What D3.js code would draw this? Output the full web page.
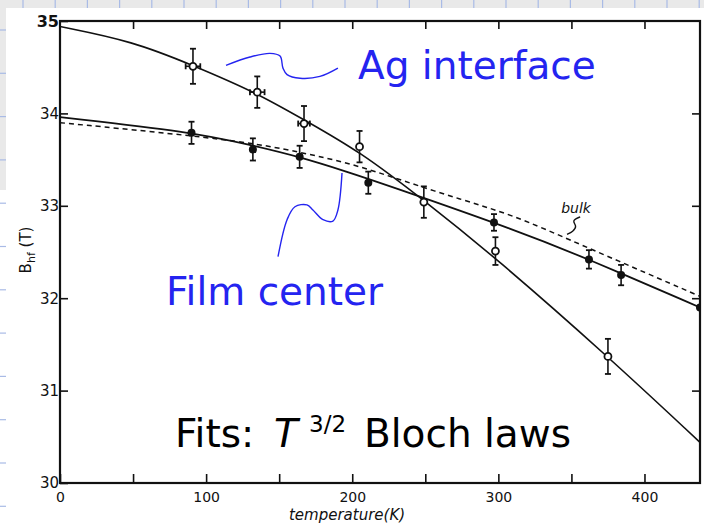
<!DOCTYPE html>
<html>
<head>
<meta charset="utf-8">
<script src="https://cdn.jsdelivr.net/npm/d3@7"></script>
<style>
  body { margin: 0; background: #fff; }
  svg { display: block; }
</style>
</head>
<body>
<svg id="chart" width="704" height="526"></svg>
<script>
// measured points, temperature in K, hyperfine field in T
const agT = [91, 135, 167, 205, 249, 298, 375]
const agB = [34.51, 34.23, 33.89, 33.64, 33.04, 32.51, 31.37]
const agErr = [0.19, 0.17, 0.19, 0.17, 0.17, 0.15, 0.19]
const agTErr = [5, 5, 4, 0, 0, 0, 0]

const filmT = [90, 132, 164, 211, 297, 362, 384, 438]
const filmB = [33.79, 33.61, 33.53, 33.25, 32.82, 32.42, 32.25, 31.9]
const filmErr = [0.12, 0.12, 0.12, 0.12, 0.09, 0.1, 0.11, 0]

// fit curves
const agFitT = [0, 50, 91, 135, 167, 205, 249, 298, 375, 438]
const agFitB = [34.94, 34.78, 34.52, 34.22, 33.93, 33.59, 33.06, 32.44, 31.37, 30.44]
const filmFitT = [0, 90, 130, 164, 198, 219, 315, 362, 438]
const filmFitB = [33.96, 33.8, 33.66, 33.53, 33.36, 33.25, 32.72, 32.42, 31.9]
const bulkT = [0, 123, 164, 199, 233, 274, 310, 349, 438]
const bulkB = [33.9, 33.71, 33.58, 33.46, 33.28, 33.07, 32.9, 32.63, 32.02]

// hand drawn pointers, in data units
const agArrowT = [113.6, 130, 143.7, 150.6, 152.6, 155.4, 164.3, 177.9, 190.2]
const agArrowB = [34.52, 34.61, 34.65, 34.62, 34.49, 34.42, 34.38, 34.4, 34.49]
const filmArrowT = [149.2, 155.4, 160.8, 169, 173.1, 180, 186.8, 190.2, 193]
const filmArrowB = [32.45, 32.85, 32.99, 33.01, 32.955, 32.85, 32.835, 32.955, 33.355]

const xTicks = [0, 50, 100, 150, 200, 250, 300, 350, 400]
const yTicks = [30, 31, 32, 33, 34, 35]

const svg = d3.select('#chart')
const blue = '#2424f0'

const plotLeft = 60
const plotRight = 700
const plotTop = 21
const plotBottom = 483

// scanned page backdrop
svg.append('rect').attr('width', 704).attr('height', 526).attr('fill', '#e9e9e9')
svg.append('rect').attr('x', 6).attr('y', 8).attr('width', 698).attr('height', 518).attr('fill', '#fff')
svg.append('rect').attr('x', 0).attr('y', 190).attr('width', 6).attr('height', 336).attr('fill', '#fff')
for (let gx = 23; gx < 704; gx += 32.2) {
  svg.append('line').attr('x1', gx).attr('x2', gx).attr('y1', 0).attr('y2', 8)
    .attr('stroke', '#a9bbe6').attr('stroke-width', 1.2)
}
for (let gy = 30; gy < 526; gy += 43.3) {
  svg.append('line').attr('x1', 0).attr('x2', 6).attr('y1', gy).attr('y2', gy)
    .attr('stroke', '#a9bbe6').attr('stroke-width', 1.2)
}

const x = d3.scaleLinear().domain([0, 438]).range([plotLeft, plotRight])
const y = d3.scaleLinear().domain([30, 35]).range([plotBottom, plotTop])

const ink = '#111'
const font = 'DejaVu Sans, Verdana, sans-serif'

svg.append('defs').append('clipPath').attr('id', 'clip')
  .append('rect').attr('x', plotLeft).attr('y', plotTop)
  .attr('width', plotRight - plotLeft).attr('height', plotBottom - plotTop)

// axes
const styleAxis = (g) => {
  g.select('.domain').remove()
  g.selectAll('.tick line').attr('stroke', ink).attr('stroke-width', 1.6)
  g.selectAll('.tick text').attr('fill', ink).style('font-family', font)
}

svg.append('g')
  .attr('transform', `translate(0 ${plotBottom})`)
  .call(d3.axisBottom(x).tickValues(xTicks).tickSize(-9).tickPadding(9)
    .tickFormat((d) => (d % 100 === 0 ? d : '')))
  .call(styleAxis)
  .selectAll('.tick text').style('font-size', '14px')

svg.append('g')
  .attr('transform', `translate(0 ${plotTop})`)
  .call(d3.axisTop(x).tickValues(xTicks.slice(1)).tickSize(-8).tickFormat(''))
  .call(styleAxis)

svg.append('g')
  .attr('transform', `translate(${plotLeft} 0)`)
  .call(d3.axisLeft(y).tickValues(yTicks).tickSize(-8).tickPadding(1).tickFormat(d3.format('d')))
  .call(styleAxis)
  .selectAll('.tick text')
  .style('font-size', (d) => (d === 35 ? '16px' : '15px'))
  .attr('font-weight', (d) => (d === 35 ? 'bold' : 'normal'))

svg.append('g')
  .attr('transform', `translate(${plotRight} 0)`)
  .call(d3.axisRight(y).tickValues(yTicks.slice(1, -1)).tickSize(-8).tickFormat(''))
  .call(styleAxis)

svg.append('rect')
  .attr('x', plotLeft).attr('y', plotTop)
  .attr('width', plotRight - plotLeft).attr('height', plotBottom - plotTop)
  .attr('fill', 'none').attr('stroke', ink).attr('stroke-width', 2.2)

// fit curves
const plot = svg.append('g').attr('clip-path', 'url(#clip)')
const line = d3.line().x((d) => x(d[0])).y((d) => y(d[1])).curve(d3.curveBasis)

plot.append('path')
  .datum(d3.zip(bulkT, bulkB))
  .attr('d', line).attr('fill', 'none')
  .attr('stroke', ink).attr('stroke-width', 1.5).attr('stroke-dasharray', '5 4')

plot.append('path')
  .datum(d3.zip(filmFitT, filmFitB))
  .attr('d', line).attr('fill', 'none')
  .attr('stroke', ink).attr('stroke-width', 1.8)

plot.append('path')
  .datum(d3.zip(agFitT, agFitB))
  .attr('d', line).attr('fill', 'none')
  .attr('stroke', ink).attr('stroke-width', 1.6)

// error bars and markers
const drawErrors = (ts, bs, errs, terrs) => {
  ts.forEach((t, i) => {
    const cx = x(t)
    const e = errs[i]
    if (e > 0) {
      plot.append('line').attr('x1', cx).attr('x2', cx)
        .attr('y1', y(bs[i] - e)).attr('y2', y(bs[i] + e))
        .attr('stroke', ink).attr('stroke-width', 1.6)
      for (const v of [bs[i] - e, bs[i] + e]) {
        plot.append('line').attr('x1', cx - 3).attr('x2', cx + 3)
          .attr('y1', y(v)).attr('y2', y(v))
          .attr('stroke', ink).attr('stroke-width', 1.8)
      }
    }
    const te = terrs ? terrs[i] : 0
    if (te > 0) {
      plot.append('line').attr('x1', x(t - te)).attr('x2', x(t + te))
        .attr('y1', y(bs[i])).attr('y2', y(bs[i]))
        .attr('stroke', ink).attr('stroke-width', 1.6)
      for (const v of [t - te, t + te]) {
        plot.append('line').attr('x1', x(v)).attr('x2', x(v))
          .attr('y1', y(bs[i]) - 3).attr('y2', y(bs[i]) + 3)
          .attr('stroke', ink).attr('stroke-width', 1.8)
      }
    }
  })
}

drawErrors(filmT, filmB, filmErr)
drawErrors(agT, agB, agErr, agTErr)

plot.selectAll('.film')
  .data(d3.zip(filmT, filmB))
  .join('circle')
  .attr('cx', (d) => x(d[0])).attr('cy', (d) => y(d[1]))
  .attr('r', 4).attr('fill', ink)

plot.selectAll('.ag')
  .data(d3.zip(agT, agB))
  .join('circle')
  .attr('cx', (d) => x(d[0])).attr('cy', (d) => y(d[1]))
  .attr('r', 3.5).attr('fill', '#fff').attr('stroke', ink).attr('stroke-width', 1.8)

// labels
svg.append('text')
  .attr('x', 347).attr('y', 520)
  .attr('text-anchor', 'middle')
  .attr('fill', ink)
  .style('font-family', font).style('font-size', '15px').style('font-style', 'italic')
  .text('temperature(K)')

const ylab = svg.append('text')
  .attr('transform', 'translate(31 250) rotate(-90)')
  .attr('text-anchor', 'middle')
  .attr('fill', ink)
  .style('font-family', font).style('font-size', '15px')
ylab.append('tspan').text('B')
ylab.append('tspan').attr('dy', 4).style('font-size', '11px').text('hf')
ylab.append('tspan').attr('dy', -4).text(' (T)')

svg.append('text')
  .attr('x', x(343)).attr('y', y(32.92))
  .attr('fill', ink)
  .style('font-family', font).style('font-size', '14px').style('font-style', 'italic')
  .text('bulk')

svg.append('path')
  .datum([[356, 32.88], [350, 32.84], [354, 32.78], [351, 32.72], [347, 32.69]])
  .attr('d', d3.line().x((d) => x(d[0])).y((d) => y(d[1])).curve(d3.curveBasis))
  .attr('fill', 'none').attr('stroke', ink).attr('stroke-width', 1.4)

// blue annotations
const sketch = d3.line().x((d) => x(d[0])).y((d) => y(d[1])).curve(d3.curveCatmullRom)
svg.append('path')
  .datum(d3.zip(agArrowT, agArrowB))
  .attr('d', sketch).attr('fill', 'none').attr('stroke', blue).attr('stroke-width', 1.4)
svg.append('path')
  .datum(d3.zip(filmArrowT, filmArrowB))
  .attr('d', sketch).attr('fill', 'none').attr('stroke', blue).attr('stroke-width', 1.4)

svg.append('text')
  .attr('x', 358).attr('y', 79)
  .attr('fill', blue)
  .style('font-family', font).style('font-size', '39px')
  .text('Ag interface')

svg.append('text')
  .attr('x', 166).attr('y', 305)
  .attr('fill', blue)
  .style('font-family', font).style('font-size', '39px')
  .text('Film center')

const fits = svg.append('text')
  .attr('y', 447)
  .attr('fill', '#000')
  .style('font-family', font).style('font-size', '39px')
fits.append('tspan').attr('x', 175).text('Fits:')
fits.append('tspan').attr('x', 274).style('font-style', 'italic').text('T')
fits.append('tspan').attr('x', 309).attr('dy', -15).style('font-size', '23px').text('3/2')
fits.append('tspan').attr('x', 364).attr('dy', 15).text('Bloch laws')
</script>
</body>
</html>
